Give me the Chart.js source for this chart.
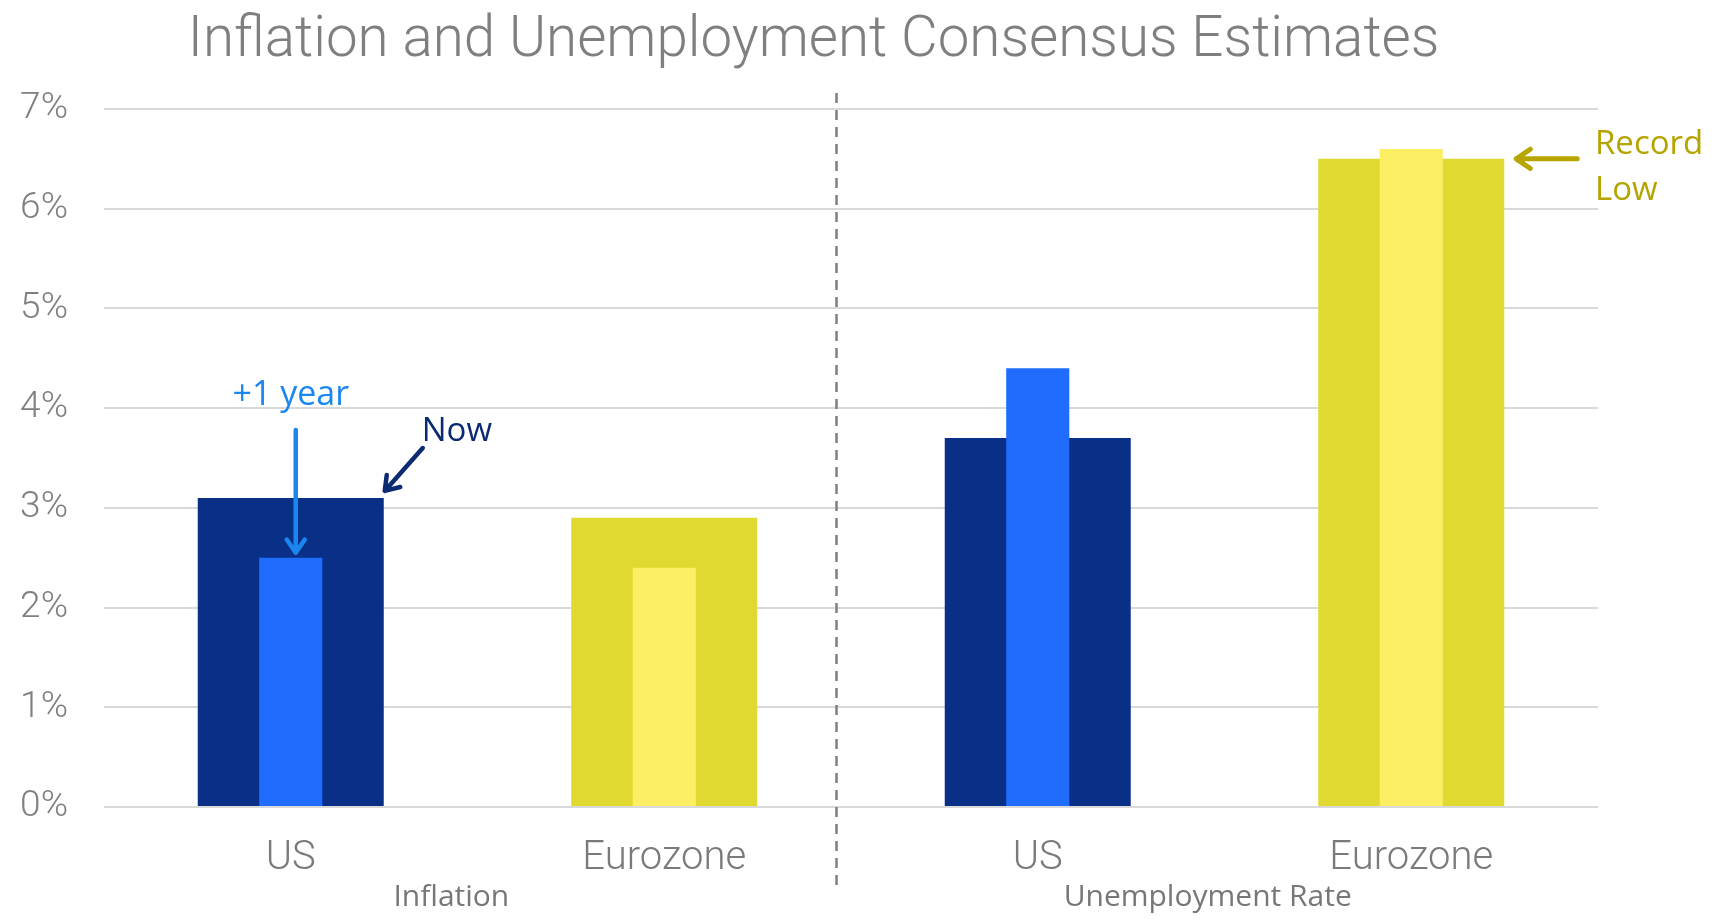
<!DOCTYPE html>
<html>
<head>
<meta charset="utf-8">
<title>Inflation and Unemployment Consensus Estimates</title>
<script src="https://cdn.jsdelivr.net/npm/chart.js@4/dist/chart.umd.min.js"></script>
<style>
  html, body { margin: 0; padding: 0; background: #fff; }
  #wrap { width: 1723px; height: 922px; position: relative; }
</style>
</head>
<body>
<div id="wrap"><canvas id="perfChart"></canvas></div>
<script>
// ===========================
// DATA
// ===========================
const categories  = ['US', 'Eurozone', 'US', 'Eurozone'];
const groups      = ['Inflation', 'Unemployment Rate'];
const nowValues   = [3.1, 2.9, 3.7, 6.5];
const yearValues  = [2.5, 2.4, 4.4, 6.6];
const yTicks      = [0, 1, 2, 3, 4, 5, 6, 7];

const NAVY   = '#0a2f87';
const BLUE   = '#1f6cff';
const YELLOW = '#e0d92f';
const LEMON  = '#fcef63';

const nowColors  = [NAVY, YELLOW, NAVY, YELLOW];
const yearColors = [BLUE, LEMON, BLUE, LEMON];

// ===========================
// EXTRAS: title, divider, group labels, callouts
// ===========================
function arrow(ctx, x1, y1, x2, y2, color, w, head) {
  const a = Math.atan2(y2 - y1, x2 - x1);
  ctx.save();
  ctx.strokeStyle = color;
  ctx.lineWidth = w;
  ctx.lineCap = 'round';
  ctx.lineJoin = 'round';
  ctx.beginPath();
  ctx.moveTo(x1, y1);
  ctx.lineTo(x2, y2);
  ctx.moveTo(x2 - head * Math.cos(a - 0.6), y2 - head * Math.sin(a - 0.6));
  ctx.lineTo(x2, y2);
  ctx.lineTo(x2 - head * Math.cos(a + 0.6), y2 - head * Math.sin(a + 0.6));
  ctx.stroke();
  ctx.restore();
}

const extras = {
  id: 'extras',
  afterDraw(chart) {
    const { ctx, chartArea } = chart;
    const x = chart.scales.x, y = chart.scales.y;

    ctx.save();
    // title
    ctx.fillStyle = '#7f7f7f';
    ctx.font = '300 56.5px Roboto, "Open Sans", sans-serif';
    ctx.textAlign = 'center';
    ctx.textBaseline = 'middle';
    ctx.fillText('Inflation and Unemployment Consensus Estimates', x.getPixelForValue(1.4), 42);

    // dashed divider
    const dx = Math.round(x.getPixelForValue(1.46)) + 0.5;
    ctx.strokeStyle = '#7f7f7f';
    ctx.lineWidth = 2.5;
    ctx.setLineDash([10, 7]);
    ctx.beginPath();
    ctx.moveTo(dx, chartArea.top - 16);
    ctx.lineTo(dx, chartArea.bottom + 78);
    ctx.stroke();
    ctx.setLineDash([]);

    // group labels
    ctx.fillStyle = '#777777';
    ctx.font = '30px "Open Sans", sans-serif';
    ctx.fillText(groups[0], x.getPixelForValue(0.43), chartArea.bottom + 90);
    ctx.fillText(groups[1], x.getPixelForValue(2.455), chartArea.bottom + 90);

    // +1 year callout
    const usX = x.getPixelForValue(0) + 5;
    ctx.fillStyle = '#1a86f0';
    ctx.font = '34px "Open Sans", sans-serif';
    ctx.fillText('+1 year', x.getPixelForValue(0), y.getPixelForValue(4.13));
    arrow(ctx, usX, y.getPixelForValue(3.78), usX, y.getPixelForValue(yearValues[0]) - 5, '#1a86f0', 4.5, 16);

    // Now callout
    const barR = x.getPixelForValue(0) + 93;
    ctx.fillStyle = '#0a2a72';
    ctx.textAlign = 'left';
    ctx.font = '33px "Open Sans", sans-serif';
    ctx.fillText('Now', barR + 38, y.getPixelForValue(3.76));
    arrow(ctx, barR + 39, y.getPixelForValue(3.6), barR + 1, y.getPixelForValue(nowValues[0]) - 7, '#0a2a72', 4.5, 16);

    // Record Low callout
    const ezR = x.getPixelForValue(3) + 93;
    ctx.fillStyle = '#b5a400';
    ctx.fillText('Record', chartArea.right - 3, y.getPixelForValue(6.64));
    ctx.fillText('Low', chartArea.right - 3, y.getPixelForValue(6.18));
    arrow(ctx, ezR + 73, y.getPixelForValue(nowValues[3]), ezR + 12, y.getPixelForValue(nowValues[3]), '#b8a600', 5, 17);
    ctx.restore();
  }
};

// ===========================
// CHART
// ===========================
new Chart(document.getElementById('perfChart'), {
  type: 'bar',
  data: {
    labels: categories,
    datasets: [
      {
        label: '+1 year',
        data: yearValues,
        backgroundColor: yearColors,
        grouped: false,
        barPercentage: 0.169,
        categoryPercentage: 1,
        order: 0
      },
      {
        label: 'Now',
        data: nowValues,
        backgroundColor: nowColors,
        grouped: false,
        barPercentage: 0.498,
        categoryPercentage: 1,
        order: 1
      }
    ]
  },
  options: {
    responsive: true,
    maintainAspectRatio: false,
    animation: false,
    layout: { padding: { top: 109, bottom: 45, left: 0, right: 125 } },
    plugins: {
      legend: { display: false },
      tooltip: { enabled: false },
      title: { display: false }
    },
    scales: {
      y: {
        min: 0, max: 7,
        afterFit: s => { s.width = 104; },
        afterBuildTicks: s => { s.ticks = yTicks.map(v => ({ value: v })); },
        ticks: {
          callback: v => v + '%',
          color: '#808080',
          padding: 36,
          font: { family: 'Roboto, "Open Sans", sans-serif', size: 37, weight: 300 }
        },
        grid: { color: '#d9d9d9', lineWidth: 2, drawTicks: false },
        border: { display: false }
      },
      x: {
        afterFit: s => { s.height = 70; },
        ticks: {
          color: '#7a7a7a',
          padding: 28,
          font: { family: 'Roboto, "Open Sans", sans-serif', size: 40, weight: 300 }
        },
        grid: { display: false, drawTicks: false },
        border: { display: false }
      }
    }
  },
  plugins: [extras]
});
</script>
</body>
</html>
